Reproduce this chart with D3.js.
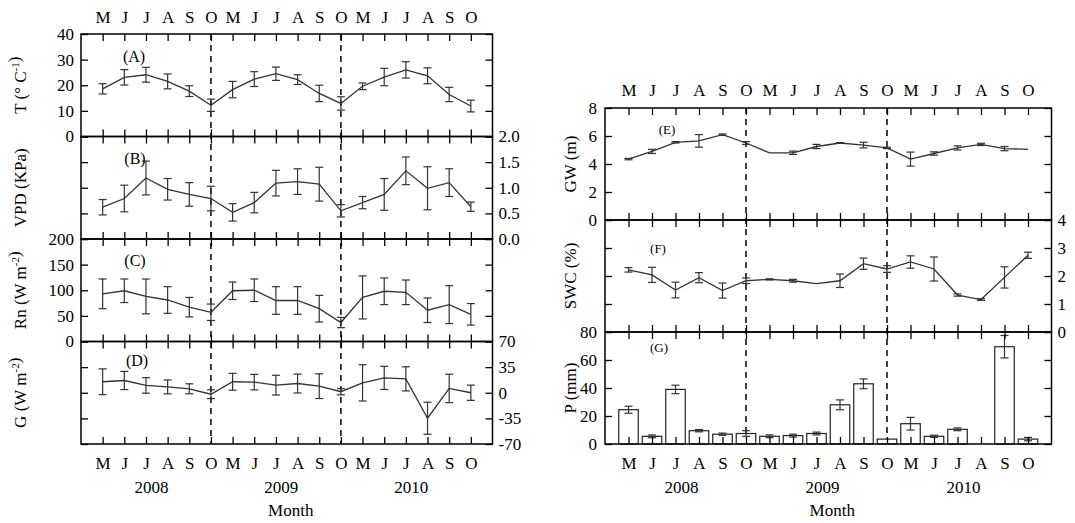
<!DOCTYPE html>
<html>
<head>
<meta charset="utf-8">
<script src="https://cdn.jsdelivr.net/npm/d3@7"></script>
<style>
  html, body { margin: 0; padding: 0; background: #fff; }
  svg { display: block; font-family: "Liberation Serif", "Times New Roman", serif; }
  .tick text { font-family: "Liberation Serif", "Times New Roman", serif; }
</style>
</head>
<body>
<svg id="chart" width="1075" height="523"></svg>
<script>
const monthLabels = ["M","J","J","A","S","O","M","J","J","A","S","O","M","J","J","A","S","O"];
const yearLabels = ["2008","2009","2010"];

// (A) Air temperature
const tMean = [18.6,23.1,24.1,21.5,17.7,12.2,18.3,22.4,24.5,22.2,16.8,12.9,19.6,23.2,26.0,23.7,16.4,11.9];
const tErr  = [2.0,3.0,2.9,2.9,2.1,2.4,3.2,2.9,2.6,1.9,3.2,2.6,1.3,3.4,3.2,3.1,2.8,2.3];
// (B) VPD
const vpdMean = [0.62,0.79,1.19,0.97,0.87,0.79,0.52,0.71,1.09,1.12,1.07,0.55,0.71,0.87,1.33,0.99,1.10,0.63];
const vpdErr  = [0.15,0.26,0.33,0.21,0.23,0.24,0.17,0.20,0.25,0.25,0.33,0.12,0.12,0.31,0.27,0.42,0.27,0.09];
// (C) Net radiation
const rnMean = [93,99,88,81,67,57,99,100,80,80,64,37,86,98,96,61,72,53];
const rnErr  = [29,23,34,26,19,16,17,22,27,27,26,10,42,26,24,24,37,21];
// (D) Soil heat flux
const gMean = [15,16.7,10,8,5.4,-2,15,14.5,10.4,12.6,9,1.4,13.5,20.3,19,-34.8,5.9,0];
const gErr  = [17.6,12.4,10.6,9.5,6.8,6,11.5,10.6,13.5,12.9,16.9,4.2,24.8,15.8,16.5,21.9,19.4,10.4];
// (E) Groundwater depth
const gwMean = [4.35,4.9,5.55,5.65,6.1,5.5,4.8,4.8,5.25,5.5,5.35,5.15,4.35,4.75,5.15,5.4,5.1,5.05];
const gwErr  = [0.05,0.15,0.05,0.45,0.05,0.1,0,0.12,0.15,0.03,0.2,0.05,0.5,0.12,0.15,0.08,0.15,0];
// (F) Soil water content
const swcMean = [2.22,2.04,1.5,1.94,1.48,1.83,1.88,1.83,1.73,1.83,2.44,2.25,2.5,2.25,1.32,1.16,1.95,2.74];
const swcErr  = [0.08,0.27,0.28,0.18,0.27,0.1,0.02,0.05,0,0.24,0.2,0.12,0.22,0.43,0.04,0.03,0.38,0.11];
// (G) Precipitation
const pMean = [24.5,5.5,39,9.5,7,7.5,5.5,6,7.5,28,43,3.5,14.5,5.5,10.5,0,69.5,3.5];
const pErr  = [2.5,1,3,0.8,0.8,2,1,1,1,3.5,3.5,0,4.5,0.8,1,0,8,1.2];

const svg = d3.select("#chart");
const FONT = 17;
const idx = d3.range(monthLabels.length);

const leftChart  = {x0:81,  x1:492.5,  top:34,  bottom:444, n:4, titleX:22,  yearDx:0.25};
const rightChart = {x0:605, x1:1051.5, top:108, bottom:444, n:3, titleX:572, yearDx:0.25};

function xScale(c){ return d3.scalePoint().domain(idx).range([c.x0,c.x1]).padding(1); }
function bandScale(c){ return d3.scaleBand().domain(idx).range([c.x0,c.x1]).paddingInner(0.17).paddingOuter(0.585); }

function styleAxis(sel){
  sel.select(".domain").remove();
  sel.selectAll(".tick line").attr("stroke","#000").attr("stroke-width",1.3);
  sel.selectAll(".tick text").attr("font-size",FONT).attr("fill","#000");
}

function panel(c, i, spec){
  const h = (c.bottom-c.top)/c.n;
  const pt = c.top + i*h, pb = pt + h;
  const x = xScale(c);
  const y = d3.scaleLinear().domain(spec.domain).range([pb, pt]);
  const g = svg.append("g");

  if (spec.type === "bar") {
    const xb = bandScale(c);
    g.selectAll("rect.bar").data(idx.filter(k => spec.mean[k] > 0)).join("rect")
      .attr("class","bar")
      .attr("x", k => xb(k)).attr("width", xb.bandwidth())
      .attr("y", k => y(spec.mean[k])).attr("height", k => y(0) - y(spec.mean[k]))
      .attr("fill","#fff").attr("stroke","#222").attr("stroke-width",1.2);
  } else {
    g.append("path").datum(idx)
      .attr("d", d3.line().x(k => x(k)).y(k => y(spec.mean[k])))
      .attr("fill","none").attr("stroke","#333").attr("stroke-width",1.3);
  }
  // error bars
  const eb = g.selectAll("g.eb").data(idx.filter(k => spec.err[k] > 0)).join("g").attr("class","eb")
    .attr("stroke","#333").attr("stroke-width",1.2);
  eb.append("line").attr("x1",k=>x(k)).attr("x2",k=>x(k))
    .attr("y1",k=>y(spec.mean[k]-spec.err[k])).attr("y2",k=>y(spec.mean[k]+spec.err[k]));
  eb.append("line").attr("x1",k=>x(k)-4).attr("x2",k=>x(k)+4)
    .attr("y1",k=>y(spec.mean[k]-spec.err[k])).attr("y2",k=>y(spec.mean[k]-spec.err[k]));
  eb.append("line").attr("x1",k=>x(k)-4).attr("x2",k=>x(k)+4)
    .attr("y1",k=>y(spec.mean[k]+spec.err[k])).attr("y2",k=>y(spec.mean[k]+spec.err[k]));

  // y axes (ticks inward on both sides)
  const fmt = spec.fmt || (d => d);
  const axL = d3.axisLeft(y).tickValues(spec.ticks).tickSizeInner(-7).tickSizeOuter(0)
    .tickPadding(spec.padL || 7).tickFormat(spec.side === "left" ? fmt : () => "");
  const axR = d3.axisRight(y).tickValues(spec.ticks).tickSizeInner(-7).tickSizeOuter(0)
    .tickPadding(spec.padR || 6).tickFormat(spec.side === "right" ? fmt : () => "");
  g.append("g").attr("transform",`translate(${c.x0},0)`).call(axL).call(styleAxis);
  g.append("g").attr("transform",`translate(${c.x1},0)`).call(axR).call(styleAxis);

  // x axes (top & bottom, inward)
  const isFirst = i === 0, isLast = i === c.n - 1;
  const axT = d3.axisTop(x).tickSizeInner(-7).tickSizeOuter(0).tickPadding(spec.padTop || 11)
    .tickFormat(isFirst ? (k => monthLabels[k]) : () => "");
  const axB = d3.axisBottom(x).tickSizeInner(-7).tickSizeOuter(0).tickPadding(13)
    .tickFormat(isLast ? (k => monthLabels[k]) : () => "");
  g.append("g").attr("transform",`translate(0,${pt})`).call(axT).call(styleAxis);
  g.append("g").attr("transform",`translate(0,${pb})`).call(axB).call(styleAxis);

  // frame
  g.append("rect").attr("x",c.x0).attr("y",pt).attr("width",c.x1-c.x0).attr("height",h)
    .attr("fill","none").attr("stroke","#000").attr("stroke-width",1.5);

  // panel letter
  g.append("text").attr("x",spec.letterPos[0]).attr("y",spec.letterPos[1])
    .attr("text-anchor","middle").attr("font-size",spec.letterSize).text(spec.letter);

  // y title
  const t = g.append("text").attr("transform",`translate(${c.titleX},${(pt+pb)/2}) rotate(-90)`)
    .attr("text-anchor","middle").attr("dominant-baseline","middle").attr("font-size",FONT);
  spec.title.forEach(part => {
    if (part.sup) {
      t.append("tspan").attr("dy",-6).attr("font-size",11).text(part.sup);
      t.append("tspan").attr("dy",6).text("");
    } else {
      t.append("tspan").text(part.t);
    }
  });
}

function decorate(c){
  const x = xScale(c);
  // dashed year separators
  svg.append("g").selectAll("line").data([5,11]).join("line")
    .attr("x1",k=>x(k)).attr("x2",k=>x(k)).attr("y1",c.top).attr("y2",c.bottom)
    .attr("stroke","#000").attr("stroke-width",1.5).attr("stroke-dasharray","6,5");
  // years
  svg.append("g").selectAll("text").data(yearLabels).join("text")
    .attr("x",(d,j)=> x(j*6+2) + x.step()*c.yearDx).attr("y",493)
    .attr("text-anchor","middle").attr("font-size",FONT).text(d=>d);
  svg.append("text").attr("x",(c.x0+c.x1)/2+4).attr("y",516)
    .attr("text-anchor","middle").attr("font-size",FONT).text("Month");
}

// Left chart
decorate(leftChart);
panel(leftChart, 0, {domain:[0,40], ticks:[0,10,20,30,40], side:"left", mean:tMean, err:tErr,
  letter:"(A)", letterPos:[134,62], letterSize:16,
  title:[{t:"T (° C"},{sup:"-1"},{t:")"}]});
panel(leftChart, 1, {domain:[0,2], ticks:[0,0.5,1,1.5,2], side:"right", fmt:d3.format(".1f"), mean:vpdMean, err:vpdErr,
  letter:"(B)", letterPos:[135,164], letterSize:16,
  title:[{t:"VPD (KPa)"}]});
panel(leftChart, 2, {domain:[0,200], ticks:[0,50,100,150,200], side:"left", mean:rnMean, err:rnErr,
  letter:"(C)", letterPos:[135,266], letterSize:16,
  title:[{t:"Rn (W m"},{sup:"-2"},{t:")"}]});
panel(leftChart, 3, {domain:[-70,70], ticks:[-70,-35,0,35,70], side:"right", mean:gMean, err:gErr,
  letter:"(D)", letterPos:[137,366], letterSize:16,
  title:[{t:"G (W m"},{sup:"-2"},{t:")"}]});

// Right chart
decorate(rightChart);
panel(rightChart, 0, {domain:[0,8], ticks:[0,2,4,6,8], side:"left", mean:gwMean, err:gwErr, padTop:12, padL:8,
  letter:"(E)", letterPos:[667,134], letterSize:13,
  title:[{t:"GW (m)"}]});
panel(rightChart, 1, {domain:[0,4], ticks:[0,1,2,3,4], side:"right", mean:swcMean, err:swcErr,
  letter:"(F)", letterPos:[658,253], letterSize:13,
  title:[{t:"SWC (%)"}]});
panel(rightChart, 2, {domain:[0,80], ticks:[0,20,40,60,80], side:"left", type:"bar", mean:pMean, err:pErr, padL:8,
  letter:"(G)", letterPos:[659,352], letterSize:13,
  title:[{t:"P (mm)"}]});
</script>
</body>
</html>
